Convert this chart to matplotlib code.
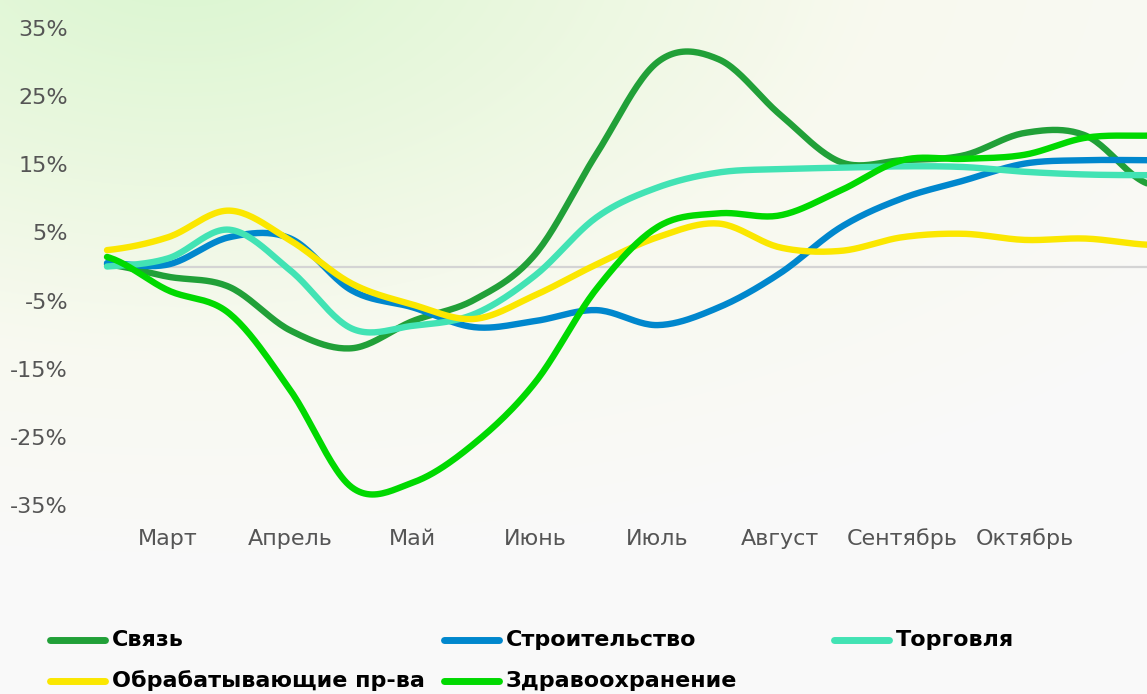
import numpy as np
import matplotlib
matplotlib.use('Agg')
import matplotlib.pyplot as plt
from matplotlib.lines import Line2D

# half-month steps, months labelled at odd positions
months = ['Март', 'Апрель', 'Май', 'Июнь', 'Июль', 'Август', 'Сентябрь', 'Октябрь']
names = ['Связь', 'Строительство', 'Торговля', 'Обрабатывающие пр-ва', 'Здравоохранение']
colors = ['#21A038', '#0087CD', '#42E3B4', '#FBE700', '#00D900']

svyaz = [0.3, -1.5, -3.0, -9.4, -12.0, -8.0, -4.9, 1.8, 16.5, 30.0, 30.4, 22.3, 15.3, 15.6, 16.3, 19.6, 19.2, 12.2]
stroy = [0.5, 0.3, 4.3, 4.1, -3.5, -6.0, -8.9, -8.0, -6.4, -8.6, -6.0, -1.0, 5.8, 10.0, 12.6, 15.1, 15.6, 15.6]
torg = [0.0, 1.2, 5.4, -0.6, -9.1, -8.7, -7.0, -1.3, 7.2, 11.6, 13.8, 14.3, 14.5, 14.7, 14.6, 13.9, 13.5, 13.4]
obrab = [2.4, 4.3, 8.2, 3.8, -2.5, -5.6, -7.7, -4.2, 0.3, 4.3, 6.3, 2.8, 2.3, 4.3, 4.8, 3.9, 4.1, 3.2]
zdrav = [1.4, -3.5, -6.9, -18.2, -32.4, -31.7, -26.0, -17.0, -3.3, 5.8, 7.8, 7.5, 11.2, 15.6, 15.8, 16.4, 18.9, 19.2]
series = [svyaz, stroy, torg, obrab, zdrav]

yticks = [-35, -25, -15, -5, 5, 15, 25, 35]

W, H = 1147, 694


def smooth(y, n=24):
    # catmull-rom, like excel's "smoothed line"
    y = np.asarray(y, float)
    x = np.arange(len(y), dtype=float)
    p = np.concatenate([[y[0]], y, [y[-1]]])
    xs, ys = [], []
    t = np.linspace(0, 1, n, endpoint=False)
    for i in range(len(y) - 1):
        p0, p1, p2, p3 = p[i], p[i + 1], p[i + 2], p[i + 3]
        m1 = (p2 - p0) / 2
        m2 = (p3 - p1) / 2
        h00 = 2 * t**3 - 3 * t**2 + 1
        h10 = t**3 - 2 * t**2 + t
        h01 = -2 * t**3 + 3 * t**2
        h11 = t**3 - t**2
        xs.append(x[i] + t)
        ys.append(h00 * p1 + h10 * m1 + h01 * p2 + h11 * m2)
    xs.append([x[-1]])
    ys.append([y[-1]])
    return np.concatenate(xs), np.concatenate(ys)


fig = plt.figure(figsize=(W / 100, H / 100), dpi=100)

# background glow: green top-left -> cream -> near white bottom/right
yy, xx = np.mgrid[0:H, 0:W]
cream = np.array([0.968, 0.976, 0.905])
white = np.array([0.980, 0.980, 0.980])
green = np.array([0.850, 0.965, 0.815])
dc = np.sqrt(((xx - 200) / 1250.0) ** 2 + ((yy + 40) / 600.0) ** 2)
c = np.clip(1 - dc, 0, 1) ** 0.7
img = white * (1 - c[..., None]) + cream * c[..., None]
dg = np.sqrt(((xx - 180) / 700.0) ** 2 + ((yy + 60) / 420.0) ** 2)
g = np.clip(1 - dg, 0, 1) ** 1.1
img = img * (1 - g[..., None]) + green * g[..., None]
fig.figimage(np.clip(img, 0, 1), xo=0, yo=0, origin='upper', zorder=-10)

left, right, top, bottom = 107, 1147, 28, 505
ax = fig.add_axes([left / W, 1 - bottom / H, (right - left) / W, (bottom - top) / H])
ax.set_zorder(1)
ax.patch.set_alpha(0)
for s in ax.spines.values():
    s.set_visible(False)

ax.axhline(0, color='#d4d4d4', lw=1.6, zorder=1)

for vals, col in zip(series, colors):
    sx, sy = smooth(vals)
    ax.plot(sx, sy, color=col, lw=4.6, solid_capstyle='round', solid_joinstyle='round',
            clip_on=False, zorder=2)

ax.set_xlim(0, len(svyaz) - 1)
ax.set_ylim(-35, 35)
ax.set_yticks(yticks)
ax.set_yticklabels([f'{t}%' for t in yticks], fontsize=16, color='#555555')
ax.set_xticks(np.arange(1, 2 * len(months), 2))
ax.set_xticklabels(months, fontsize=16, color='#555555')
ax.tick_params(axis='y', length=0, pad=28)
ax.tick_params(axis='x', length=0, pad=17)

# legend, laid out by hand
entries = [(0, 50, 640), (1, 444, 640), (2, 834, 640), (3, 50, 681), (4, 444, 681)]
for i, x0, y0 in entries:
    fy = 1 - y0 / H
    fig.add_artist(Line2D([x0 / W, (x0 + 55) / W], [fy, fy], color=colors[i], lw=5,
                          solid_capstyle='round', transform=fig.transFigure))
    fig.text((x0 + 62) / W, fy, names[i], fontsize=16, fontweight='bold',
             color='black', va='center', ha='left')

fig.savefig('out.png', dpi=100)
